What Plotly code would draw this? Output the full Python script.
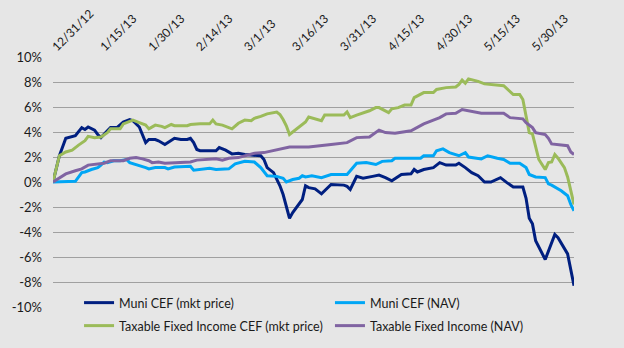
import plotly.graph_objects as go

# ---- data (percent total return) ----
muni_mkt_dates = ["2012-12-31","2013-01-02","2013-01-04","2013-01-07","2013-01-09","2013-01-10","2013-01-11","2013-01-13",
    "2013-01-14","2013-01-15","2013-01-17","2013-01-18","2013-01-20","2013-01-22","2013-01-24","2013-01-25","2013-01-27",
    "2013-01-28","2013-01-29","2013-01-30","2013-02-01","2013-02-02","2013-02-04","2013-02-07","2013-02-09","2013-02-11",
    "2013-02-12","2013-02-13","2013-02-14","2013-02-15","2013-02-20","2013-02-21","2013-02-23","2013-02-25","2013-02-27",
    "2013-03-01","2013-03-03","2013-03-06","2013-03-07","2013-03-08","2013-03-10","2013-03-11","2013-03-12","2013-03-13",
    "2013-03-14","2013-03-15","2013-03-16","2013-03-18","2013-03-19","2013-03-20","2013-03-21","2013-03-23","2013-03-25",
    "2013-03-28","2013-04-01","2013-04-02","2013-04-03","2013-04-05","2013-04-07","2013-04-10","2013-04-12","2013-04-14",
    "2013-04-16","2013-04-19","2013-04-22","2013-04-23","2013-04-24","2013-04-26","2013-04-29","2013-05-01","2013-05-03",
    "2013-05-06","2013-05-07","2013-05-09","2013-05-11","2013-05-13","2013-05-15","2013-05-17","2013-05-20","2013-05-22",
    "2013-05-24","2013-05-27","2013-05-28","2013-05-29","2013-05-30","2013-05-31","2013-06-03","2013-06-06","2013-06-07",
    "2013-06-10","2013-06-11","2013-06-12"]
muni_mkt_values = [0.0,2.1,3.5,3.7,4.35,4.2,4.4,4.15,
    3.8,3.55,4.1,4.35,4.35,4.8,5.0,4.9,4.4,
    3.8,3.15,3.4,3.4,3.3,3.0,3.5,3.4,3.4,
    3.5,3.15,2.6,2.5,2.5,2.75,2.55,2.25,2.3,
    2.2,2.15,2.1,1.8,1.15,0.75,0.2,-0.3,-1.0,
    -2.0,-2.9,-2.45,-1.8,-1.4,-0.3,-0.45,-0.55,-0.95,
    -0.2,-0.25,-0.35,-0.6,0.45,0.3,0.45,0.55,0.35,
    0.1,0.6,0.65,1.0,0.8,1.0,1.15,1.55,1.35,
    1.35,1.5,1.15,0.75,0.5,0.0,0.0,0.35,-0.05,
    -0.4,-0.4,-1.3,-2.9,-3.35,-4.7,-6.2,-4.2,-4.45,
    -5.75,-7.0,-8.3]

muni_nav_dates = ["2012-12-31","2013-01-07","2013-01-09","2013-01-10","2013-01-12","2013-01-14","2013-01-15","2013-01-16",
    "2013-01-17","2013-01-19","2013-01-21","2013-01-23","2013-01-24","2013-01-26","2013-01-27","2013-01-29","2013-01-30",
    "2013-02-01","2013-02-04","2013-02-05","2013-02-07","2013-02-12","2013-02-13","2013-02-15","2013-02-18","2013-02-20",
    "2013-02-24","2013-02-26","2013-03-01","2013-03-04","2013-03-06","2013-03-08","2013-03-11","2013-03-13","2013-03-14",
    "2013-03-16","2013-03-18","2013-03-19","2013-03-20","2013-03-22","2013-03-25","2013-03-28","2013-04-02","2013-04-03",
    "2013-04-05","2013-04-08","2013-04-11","2013-04-13","2013-04-16","2013-04-17","2013-04-25","2013-04-26","2013-04-29",
    "2013-04-30","2013-05-02","2013-05-04","2013-05-07","2013-05-09","2013-05-10","2013-05-14","2013-05-16","2013-05-19",
    "2013-05-21","2013-05-23","2013-05-26","2013-05-28","2013-05-29","2013-05-31","2013-06-03","2013-06-04","2013-06-05",
    "2013-06-08","2013-06-10","2013-06-11","2013-06-12"]
muni_nav_values = [0.0,0.05,0.75,0.8,1.0,1.15,1.35,1.6,
    1.55,1.7,1.7,1.8,1.55,1.4,1.35,1.15,1.05,
    1.15,1.15,1.05,1.2,1.25,0.95,1.0,1.1,1.0,
    1.05,1.45,1.65,1.6,1.15,0.5,0.45,0.3,0.0,
    0.2,0.3,0.5,0.4,0.5,0.35,0.6,0.6,0.9,
    1.5,1.55,1.4,1.65,1.7,1.9,1.9,2.1,2.1,
    2.5,2.65,2.35,2.1,2.35,2.0,1.85,2.1,1.9,
    1.8,1.5,1.5,1.15,0.6,0.4,0.35,-0.15,-0.25,
    -0.7,-1.1,-1.8,-2.3]

taxable_mkt_dates = ["2012-12-31","2013-01-02","2013-01-04","2013-01-06","2013-01-08","2013-01-10","2013-01-11","2013-01-13",
    "2013-01-15","2013-01-17","2013-01-18","2013-01-21","2013-01-22","2013-01-25","2013-01-27","2013-01-29","2013-01-30",
    "2013-02-01","2013-02-03","2013-02-04","2013-02-06","2013-02-07","2013-02-11","2013-02-12","2013-02-15","2013-02-18",
    "2013-02-19","2013-02-20","2013-02-22","2013-02-25","2013-02-27","2013-03-01","2013-03-03","2013-03-04","2013-03-06",
    "2013-03-08","2013-03-11","2013-03-12","2013-03-13","2013-03-14","2013-03-15","2013-03-16","2013-03-18","2013-03-20",
    "2013-03-21","2013-03-23","2013-03-25","2013-03-26","2013-04-01","2013-04-02","2013-04-03","2013-04-05","2013-04-09",
    "2013-04-11","2013-04-12","2013-04-15","2013-04-16","2013-04-18","2013-04-20","2013-04-22","2013-04-23","2013-04-26",
    "2013-04-29","2013-04-30","2013-05-03","2013-05-06","2013-05-07","2013-05-08","2013-05-09","2013-05-10","2013-05-13",
    "2013-05-15","2013-05-18","2013-05-21","2013-05-24","2013-05-26","2013-05-27","2013-05-28","2013-05-29","2013-05-30",
    "2013-05-31","2013-06-01","2013-06-03","2013-06-04","2013-06-05","2013-06-06","2013-06-07","2013-06-09","2013-06-10",
    "2013-06-11","2013-06-12"]
taxable_mkt_values = [0.0,2.1,2.4,2.55,2.95,3.3,3.65,3.55,
    3.6,3.95,4.25,4.25,4.65,4.95,4.75,4.55,4.25,
    4.55,4.45,4.35,4.6,4.5,4.5,4.6,4.65,4.65,
    4.95,4.65,4.55,4.25,4.7,4.95,4.9,5.1,5.25,
    5.45,5.6,5.4,5.0,4.5,3.8,4.0,4.4,4.8,
    5.2,5.05,4.9,5.35,5.35,5.6,5.15,5.35,5.7,
    5.95,5.95,5.55,5.85,5.95,6.15,6.15,6.75,7.15,
    7.15,7.4,7.55,7.6,7.8,8.15,7.9,8.25,8.05,
    7.85,7.75,7.7,7.0,7.0,6.6,5.3,3.95,3.85,
    2.7,1.8,1.0,1.55,1.6,2.2,1.9,1.15,0.4,
    -0.6,-1.8]

taxable_nav_dates = ["2012-12-31","2013-01-02","2013-01-04","2013-01-07","2013-01-09","2013-01-11","2013-01-14","2013-01-16",
    "2013-01-18","2013-01-22","2013-01-24","2013-01-26","2013-01-28","2013-01-30","2013-01-31","2013-02-02","2013-02-04",
    "2013-02-09","2013-02-12","2013-02-14","2013-02-18","2013-02-20","2013-02-22","2013-02-24","2013-02-27","2013-03-02",
    "2013-03-04","2013-03-07","2013-03-10","2013-03-12","2013-03-15","2013-03-21","2013-03-26","2013-03-28","2013-04-02",
    "2013-04-03","2013-04-05","2013-04-09","2013-04-12","2013-04-14","2013-04-17","2013-04-22","2013-04-24","2013-04-26",
    "2013-04-29","2013-05-01","2013-05-03","2013-05-06","2013-05-08","2013-05-10","2013-05-14","2013-05-21","2013-05-23",
    "2013-05-27","2013-05-28","2013-05-30","2013-05-31","2013-06-03","2013-06-04","2013-06-05","2013-06-07","2013-06-10",
    "2013-06-11","2013-06-12"]
taxable_nav_values = [0.0,0.35,0.65,0.9,1.05,1.35,1.45,1.5,
    1.7,1.7,1.9,1.95,1.85,1.7,1.55,1.6,1.5,
    1.55,1.6,1.75,1.8,1.85,1.75,1.9,1.95,2.15,
    2.3,2.35,2.5,2.65,2.8,2.8,2.9,3.0,3.15,
    3.3,3.55,3.6,4.15,3.95,3.9,4.1,4.35,4.65,
    4.95,5.15,5.45,5.5,5.8,5.7,5.5,5.5,5.15,
    5.05,4.75,4.35,3.95,3.8,3.5,3.05,3.0,2.9,
    2.4,2.2]

series_names = ["Muni CEF (mkt price)", "Muni CEF (NAV)",
                "Taxable Fixed Income CEF (mkt price)", "Taxable Fixed Income (NAV)"]
series_colors = ["#001f80", "#00a6f5", "#9bbb59", "#8064a2"]

x_tick_dates = ["2012-12-31","2013-01-15","2013-01-30","2013-02-14","2013-03-01","2013-03-16",
                "2013-03-31","2013-04-15","2013-04-30","2013-05-15","2013-05-30"]
x_tick_labels = ["12/31/12","1/15/13","1/30/13","2/14/13","3/1/13","3/16/13",
                 "3/31/13","4/15/13","4/30/13","5/15/13","5/30/13"]
y_tick_vals = [-10, -8, -6, -4, -2, 0, 2, 4, 6, 8, 10]
y_tick_labels = ["-10%", "-8%", "-6%", "-4%", "-2%", "0%", "2%", "4%", "6%", "8%", "10%"]

FONT = "Lato"
BG = "#e6e6e6"

fig = go.Figure()
all_series = [(muni_mkt_dates, muni_mkt_values), (muni_nav_dates, muni_nav_values),
              (taxable_mkt_dates, taxable_mkt_values), (taxable_nav_dates, taxable_nav_values)]
legend_ids = ["legend", "legend2", "legend3", "legend4"]
for (xs, ys), name, color, lg in zip(all_series, series_names, series_colors, legend_ids):
    fig.add_trace(go.Scatter(x=xs, y=ys, mode="lines", name=name, legend=lg,
                             line=dict(color=color, width=3)))

# paper area spans y = 57..348 px (bottom margin 0); the y axis occupies the upper part
legend_common = dict(orientation="h", xanchor="left", yanchor="middle",
                     bgcolor="rgba(0,0,0,0)",
                     font=dict(family=FONT, size=12.5, color="#1a1a1a"), itemwidth=30)
col_x = [0.050, 0.5316]
row_y = [0.1546, 0.0756]

fig.update_layout(
    width=624, height=348, autosize=False,
    margin=dict(l=53, r=50, t=57, b=0, pad=0),
    paper_bgcolor=BG, plot_bgcolor=BG,
    showlegend=True,
    legend=dict(x=col_x[0], y=row_y[0], **legend_common),
    legend2=dict(x=col_x[1], y=row_y[0], **legend_common),
    legend3=dict(x=col_x[0], y=row_y[1], **legend_common),
    legend4=dict(x=col_x[1], y=row_y[1], **legend_common),
    xaxis=dict(type="date", side="top", range=["2012-12-31", "2013-06-12"],
               tickvals=x_tick_dates, ticktext=x_tick_labels, tickangle=-45,
               showgrid=False, zeroline=False, showline=False, ticks="",
               automargin=False, anchor="y",
               tickfont=dict(family=FONT, size=12, color="#1a1a1a")),
    yaxis=dict(range=[-10, 10], domain=[0.1409, 1], tickvals=y_tick_vals, ticktext=y_tick_labels,
               showgrid=True, gridcolor="#a0a0a0", gridwidth=1.3, zeroline=False,
               showline=False, ticks="", ticklabelstandoff=10, automargin=False,
               tickfont=dict(family=FONT, size=13, color="#1a1a1a")),
)

fig.write_html("out.html")
